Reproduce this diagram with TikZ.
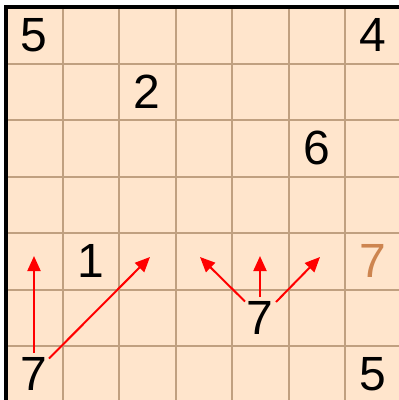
\documentclass[tikz,border=0pt]{standalone}
\usepackage{fontspec}
\setmainfont{Liberation Sans}
\usetikzlibrary{arrows.meta}
\definecolor{bg}{RGB}{255,229,204}
\definecolor{gridc}{RGB}{192,160,128}
\definecolor{given}{RGB}{205,133,80}
\begin{document}
\begin{tikzpicture}[x=1pt,y=-1pt,
  digit/.style={font=\fontsize{48}{48}\selectfont, inner sep=0pt},
  hint/.style={draw=red, line width=2pt, -{Triangle[length=15pt,width=13pt]}}]
\useasboundingbox (0,0) rectangle (399,400);
\fill[bg] (6,7) rectangle (399,400);
\foreach \i in {1,...,6} {
  \draw[gridc, line width=2pt] ({6+56.5*\i},7) -- ({6+56.5*\i},400);
  \draw[gridc, line width=2pt] (6,{7+56.5*\i}) -- (399,{7+56.5*\i});
}
\draw[line width=4.5pt, line join=miter] (6,402) -- (6,7) -- (401,7);
% digits
\node[digit] (c00) at (34.25,35.25) {5};
\node[digit] (c60) at (373.25,35.25) {4};
\node[digit] (c21) at (147.25,91.75) {2};
\node[digit] (c52) at (316.75,148.25) {6};
\node[digit] (c14) at (90.75,261.25) {1};
\node[digit, text=given] (c64) at (373.25,261.25) {7};
\node[digit] (c45) at (260.25,317.75) {7};
\node[digit] (c06) at (34.25,374.25) {7};
\node[digit] (c66) at (373.25,374.25) {5};
% arrow ends
\coordinate (a1s) at (34,352.5);
\coordinate (a1t) at (34,256);
\coordinate (a2s) at (49,358.5);
\coordinate (a2t) at (150,257);
\coordinate (b1s) at (245,301.5);
\coordinate (b1t) at (200,257);
\coordinate (b2s) at (260,297);
\coordinate (b2t) at (260,256);
\coordinate (b3s) at (276,302);
\coordinate (b3t) at (320,257);
\draw[hint] (a1s) -- (a1t);
\draw[hint] (a2s) -- (a2t);
\draw[hint] (b1s) -- (b1t);
\draw[hint] (b2s) -- (b2t);
\draw[hint] (b3s) -- (b3t);
\end{tikzpicture}
\end{document}
